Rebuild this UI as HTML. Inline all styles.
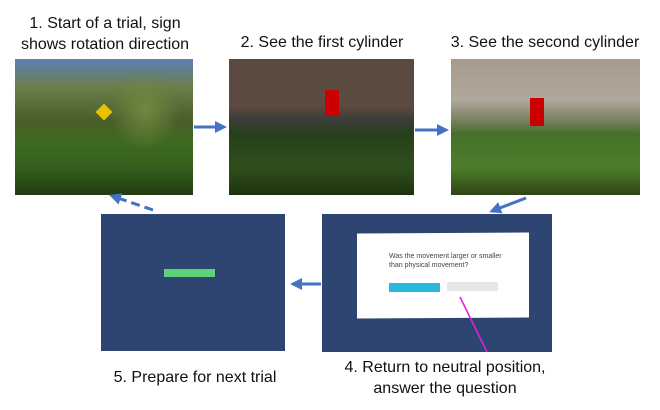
<!DOCTYPE html>
<html><head><style>
body{margin:0;width:660px;height:410px;background:#fff;position:relative;font-family:"Liberation Sans",sans-serif;overflow:hidden}
.t{position:absolute;font-size:16px;color:#111;text-align:center;line-height:21px;white-space:nowrap}
.p{position:absolute}
</style></head><body>
<div class="t" style="left:0;width:210px;top:13px">1. Start of a trial, sign<br>shows rotation direction</div>
<div class="t" style="left:222px;width:200px;top:32px">2. See the first cylinder</div>
<div class="t" style="left:430px;width:230px;top:32px">3. See the second cylinder</div>
<div class="t" style="left:90px;width:210px;top:367px">5. Prepare for next trial</div>
<div class="t" style="left:320px;width:250px;top:357px">4. Return to neutral position,<br>answer the question</div>

<div class="p" style="left:15px;top:59px;width:178px;height:136px;background:linear-gradient(180deg,#5d7fb8 0%,#6a7f4a 20%,#4a5e2a 45%,#3f6a22 60%,#34601c 80%,#223a12 100%)"></div>
<div class="p" style="left:110px;top:70px;width:70px;height:80px;background:radial-gradient(#6f8840,transparent 70%)"></div>
<div class="p" style="left:98px;top:106px;width:12px;height:12px;background:#e8c000;transform:rotate(45deg)"></div>

<div class="p" style="left:229px;top:59px;width:185px;height:136px;background:linear-gradient(180deg,#5b4a40 0%,#5a4a40 35%,#3a3c3a 45%,#26401a 55%,#2f4e1c 80%,#1f3210 100%)"></div>
<div class="p" style="left:325px;top:90px;width:14px;height:26px;background:#c00"></div>

<div class="p" style="left:451px;top:59px;width:189px;height:136px;background:linear-gradient(180deg,#a79a8c 0%,#b0a89c 30%,#7a8060 45%,#44702a 55%,#4e7e2a 80%,#2f4418 100%)"></div>
<div class="p" style="left:530px;top:98px;width:14px;height:28px;background:#c00"></div>

<div class="p" style="left:101px;top:214px;width:184px;height:137px;background:#2d4570"></div>
<div class="p" style="left:164px;top:269px;width:51px;height:8px;background:#5fd17a"></div>

<div class="p" style="left:322px;top:214px;width:230px;height:138px;background:#2d4570"></div>
<div class="p" style="left:357px;top:233px;width:172px;height:85px;background:#fff;transform:skewY(-0.3deg)"></div>
<div class="p" style="left:389px;top:252px;font-size:7px;color:#444;line-height:9px">Was the movement larger or smaller<br>than physical movement?</div>
<div class="p" style="left:389px;top:283px;width:51px;height:9px;background:#2bb8e0"></div>
<div class="p" style="left:447px;top:282px;width:51px;height:9px;background:#e6e6e6"></div>

<svg class="p" style="left:0;top:0" width="660" height="410">
<defs><marker id="a" markerWidth="4" markerHeight="4" refX="3" refY="2" orient="auto" markerUnits="strokeWidth"><path d="M0,0L4,2L0,4z" fill="#4472c4"/></marker></defs>
<g stroke="#4472c4" stroke-width="3" fill="none">
<line x1="194" y1="127" x2="224" y2="127" marker-end="url(#a)"/>
<line x1="415" y1="130" x2="446" y2="130" marker-end="url(#a)"/>
<line x1="526" y1="198" x2="492" y2="211" marker-end="url(#a)"/>
<line x1="321" y1="284" x2="293" y2="284" marker-end="url(#a)"/>
<line x1="153" y1="210" x2="112" y2="196" stroke-dasharray="9,5" marker-end="url(#a)"/>
</g>
<line x1="460" y1="297" x2="487" y2="352" stroke="#e020e0" stroke-width="1.5"/>
</svg>
</body></html>
